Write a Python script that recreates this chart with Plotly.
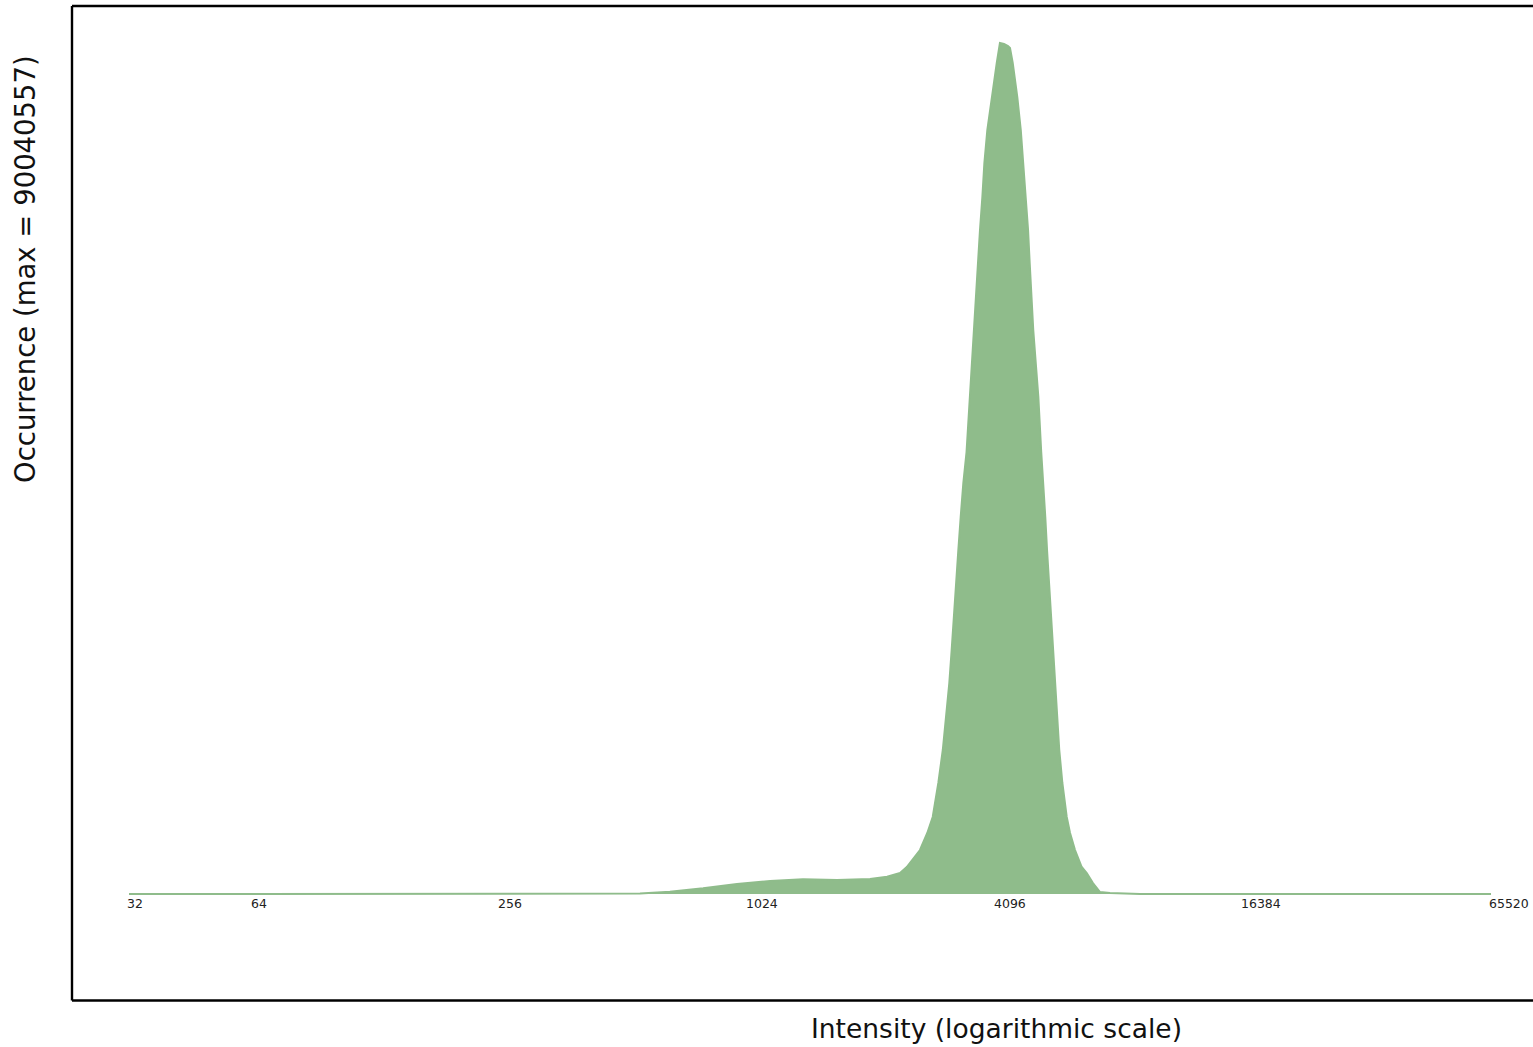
import math
import plotly.graph_objects as go

# ---- data ----
intensity = [32, 540, 559, 661, 796, 962, 1158, 1392, 1684, 2026, 2229, 2397, 2489,
             2680, 2792, 2878, 2970, 3045, 3100, 3158, 3200, 3236, 3280, 3322, 3366,
             3416, 3478, 3541, 3580, 3620, 3668, 3714, 3750, 3800, 3843, 3907, 4003,
             4119, 4193, 4290, 4387, 4436, 4504, 4621, 4712, 4781, 4844, 4908, 4953,
             4998, 5053, 5124, 5199, 5283, 5345, 5405, 5458, 5518, 5572, 5634, 5709,
             5780, 5845, 5947, 6094, 6208, 6383, 6627, 6817, 7057, 7342, 7766, 8684,
             9184, 65520]
occurrence = [0, 0, 53000, 243000, 603000, 1058000, 1375000, 1555000, 1481000, 1587000,
              1830000, 2222000, 2857000, 4655000, 6454000, 8147000, 11744000,
              15236000, 18727000, 22325000, 25816000, 29308000, 32905000, 36397000,
              39888000, 43486000, 46766000, 52585000, 56182000, 59674000, 63166000,
              66763000, 70255000, 73746000, 77343000, 80835000, 84327000, 87924000,
              90040557, 89934000, 89723000, 89511000, 87924000, 84327000, 80835000,
              77343000, 73746000, 70255000, 66763000, 63166000, 59674000, 56182000,
              52585000, 46766000, 43486000, 39888000, 36397000, 32905000, 29308000,
              25816000, 22325000, 18727000, 15236000, 11744000, 8147000, 6454000,
              4655000, 2857000, 2222000, 1164000, 212000, 106000, 53000, 0, 0]
tick_values = [32, 64, 256, 1024, 4096, 16384, 65520]
tick_labels = ["32", "64", "256", "1024", "4096", "16384", "65520"]
max_count = 90040557

W, H = 1533, 1047
GREEN = "#8FBC8B"
FONT = "DejaVu Sans"

# axis calibration (pixel placement of the axes)
x_px0, x_px1 = 129, 1491
lo, hi = math.log10(tick_values[0]), math.log10(tick_values[-1])
per_px = (hi - lo) / (x_px1 - x_px0)
xrange_ = [lo - x_px0 * per_px, hi + (W - x_px1) * per_px]

y_zero_px, y_max_px = 894, 43
cnt_px = max_count / (y_zero_px - y_max_px)
yrange_ = [-(H - y_zero_px) * cnt_px, max_count + y_max_px * cnt_px]

fig = go.Figure()
fig.add_trace(go.Scatter(
    x=intensity, y=occurrence, mode="lines", fill="tozeroy",
    fillcolor=GREEN, line=dict(color=GREEN, width=2), hoverinfo="skip",
    showlegend=False,
))

def px(xp):
    return xp / W

def py(yp):
    return 1 - yp / H

frame = dict(color="black", width=2.4)
fig.add_shape(type="line", xref="paper", yref="paper", x0=px(72), x1=px(W + 10), y0=py(6), y1=py(6), line=frame)
fig.add_shape(type="line", xref="paper", yref="paper", x0=px(72), x1=px(72), y0=py(6), y1=py(1000.5), line=frame)
fig.add_shape(type="line", xref="paper", yref="paper", x0=px(72), x1=px(W + 10), y0=py(1000.5), y1=py(1000.5), line=frame)

for v, t in zip(tick_values, tick_labels):
    fig.add_annotation(x=math.log10(v), y=0, xref="x", yref="y", text=t, showarrow=False,
                       xanchor="left", yanchor="top", xshift=-4, yshift=0,
                       font=dict(family=FONT, size=12.5, color="#222"))

fig.add_annotation(x=px(996), y=py(1028), xref="paper", yref="paper",
                   text="Intensity (logarithmic scale)", showarrow=False,
                   xanchor="center", yanchor="middle",
                   font=dict(family=FONT, size=26.5, color="#111"))
fig.add_annotation(x=px(25), y=py(269), xref="paper", yref="paper",
                   text="Occurrence (max = %d)" % max_count, showarrow=False, textangle=-90,
                   xanchor="center", yanchor="middle",
                   font=dict(family=FONT, size=27.5, color="#111"))

fig.update_layout(
    width=W, height=H, autosize=False,
    margin=dict(l=0, r=0, t=0, b=0, pad=0),
    paper_bgcolor="white", plot_bgcolor="white",
    xaxis=dict(type="log", range=xrange_, showgrid=False, zeroline=False,
               showticklabels=False, showline=False, ticks=""),
    yaxis=dict(range=yrange_, showgrid=False, zeroline=False,
               showticklabels=False, showline=False, ticks=""),
)

fig.write_html("out.html", config={"displayModeBar": False})
